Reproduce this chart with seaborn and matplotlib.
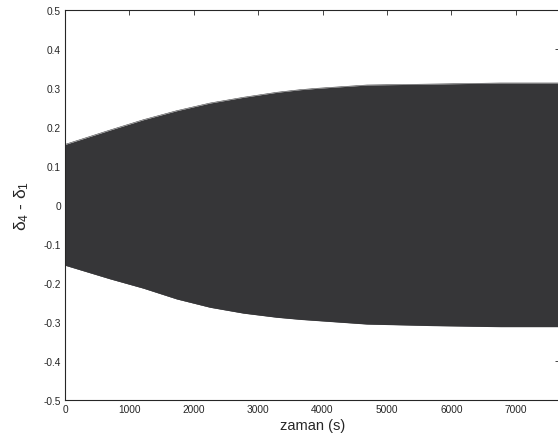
import numpy as np
import pandas as pd
import matplotlib
matplotlib.use('Agg')
import matplotlib.pyplot as plt
import seaborn as sns

# envelope of the delta4 - delta1 oscillation
time_s = [0, 700, 1218, 1736, 2254, 2772, 3290, 3653, 3912, 4690, 5720, 6760, 7680]
upper = [0.155, 0.192, 0.2185, 0.2416, 0.2613, 0.276, 0.2888, 0.2955, 0.299, 0.3075, 0.310, 0.3127, 0.3127]
lower = [-0.155, -0.190, -0.214, -0.2416, -0.263, -0.278, -0.2886, -0.294, -0.297, -0.306, -0.310, -0.3127, -0.3127]
x_ticks = [0, 1000, 2000, 3000, 4000, 5000, 6000, 7000]
y_ticks = [-0.5, -0.4, -0.3, -0.2, -0.1, 0, 0.1, 0.2, 0.3, 0.4, 0.5]
y_tick_labels = ['-0.5', '-0.4', '-0.3', '-0.2', '-0.1', '0', '0.1', '0.2', '0.3', '0.4', '0.5']

env = pd.DataFrame({'t': time_s, 'upper': upper, 'lower': lower})

sns.set_style('white')
plt.rcParams['font.family'] = ['Liberation Sans', 'DejaVu Sans']
plt.rcParams['mathtext.fontset'] = 'custom'
plt.rcParams['mathtext.rm'] = 'Liberation Sans'
plt.rcParams['mathtext.it'] = 'Liberation Sans'

fill = '#363638'
edge = '#262626'

fig = plt.figure(figsize=(5.58, 4.39), dpi=100)
ax = fig.add_axes([65 / 558, 38.3 / 439, (559.5 - 65) / 558, 389.7 / 439])

sns.lineplot(data=env, x='t', y='upper', color=fill, lw=0.4, ax=ax)
sns.lineplot(data=env, x='t', y='lower', color=fill, lw=0.4, ax=ax)
ax.fill_between(env['t'], env['lower'], env['upper'], color=fill, lw=0)

ax.set_xlim(0, 7680)
ax.set_ylim(-0.5, 0.5)
ax.set_xticks(x_ticks)
ax.set_xticklabels([str(v) for v in x_ticks])
ax.set_yticks(y_ticks)
ax.set_yticklabels(y_tick_labels)
ax.tick_params(direction='in', length=3.6, width=0.6, colors=edge, labelsize=7.3,
               top=True, right=True, pad=3)
for s in ax.spines.values():
    s.set_color(edge)
    s.set_linewidth(0.8)

ax.set_xlabel('zaman (s)', fontsize=10.5, color=edge, labelpad=3)
ax.set_ylabel(r'$\delta_4$ - $\delta_1$', fontsize=12.5, color=edge, labelpad=9)

fig.savefig('out.png', dpi=100)
